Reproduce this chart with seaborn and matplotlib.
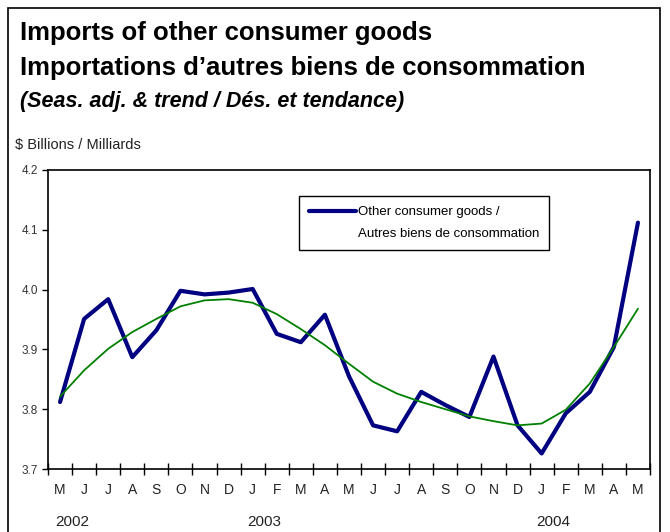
import numpy as np
import pandas as pd
import matplotlib
matplotlib.use("Agg")
import matplotlib.pyplot as plt
import matplotlib.transforms as mtransforms
import seaborn as sns
from matplotlib.lines import Line2D
from matplotlib.patches import Rectangle

# Monthly data, May 2002 - May 2004 ($ billions)
months = ["M", "J", "J", "A", "S", "O", "N", "D", "J", "F", "M", "A",
          "M", "J", "J", "A", "S", "O", "N", "D", "J", "F", "M", "A", "M"]
seas_adj = [3.812, 3.951, 3.984, 3.887, 3.932, 3.998, 3.992, 3.995, 4.001,
            3.926, 3.912, 3.958, 3.855, 3.773, 3.763, 3.829, 3.807, 3.787,
            3.888, 3.773, 3.726, 3.793, 3.829, 3.904, 4.112]
trend = [3.821, 3.865, 3.901, 3.929, 3.951, 3.972, 3.982, 3.984, 3.978,
         3.959, 3.934, 3.907, 3.876, 3.846, 3.826, 3.812, 3.800, 3.788,
         3.780, 3.773, 3.776, 3.799, 3.843, 3.904, 3.968]
years = ["2002", "2003", "2004"]
year_pos = [0.5, 8.5, 20.5]
yticks = [3.7, 3.8, 3.9, 4.0, 4.1, 4.2]

df = pd.DataFrame({"idx": range(len(months)), "seas": seas_adj, "trend": trend})

sns.set_theme(style="white")
plt.rcParams["font.family"] = ["Liberation Sans", "DejaVu Sans"]
plt.rcParams["text.color"] = "black"

fig = plt.figure(figsize=(6.7, 5.32), dpi=100)
ax = fig.add_axes([48 / 670, 1 - 469 / 532, 602 / 670, 299 / 532])

sns.lineplot(data=df, x="idx", y="seas", color="#000080", linewidth=3.0, ax=ax)
sns.lineplot(data=df, x="idx", y="trend", color="#008000", linewidth=1.3, ax=ax)

ax.set_xlim(-0.5, len(months) - 0.5)
ax.set_ylim(3.7, 4.2)
ax.set_yticks(yticks)
ax.set_yticklabels([f"{v:.1f}" for v in yticks])
ax.set_xlabel("")
ax.set_ylabel("")

# category axis: ticks between months, labels centred
ax.set_xticks(np.arange(-0.5, len(months), 1.0))
ax.set_xticklabels([])
ax.set_xticks(np.arange(len(months)), minor=True)
ax.set_xticklabels(months, minor=True)
ax.tick_params(axis="x", which="major", direction="inout", length=8, width=1, color="black", bottom=True)
ax.tick_params(axis="x", which="minor", length=0, pad=10, labelsize=10, labelcolor="#222222", bottom=True)
ax.tick_params(axis="y", direction="out", length=4, width=1, color="black", left=True,
               labelsize=8.5, labelcolor="#333333", pad=3)

for sp in ax.spines.values():
    sp.set_color("black")
    sp.set_linewidth(1.2)

trans = mtransforms.blended_transform_factory(ax.transData, ax.transAxes)
for y, p in zip(years, year_pos):
    ax.text(p, -0.177, y, transform=trans, ha="center", va="center", fontsize=11, color="#222222")

handles = [Line2D([], [], color="#000080", lw=3), Line2D([], [], color="none")]
leg = ax.legend(handles, ["Other consumer goods /", "Autres biens de consommation"],
                loc="upper left", bbox_to_anchor=(0.417, 0.913), fontsize=9.5,
                frameon=True, fancybox=False, edgecolor="black", framealpha=1,
                handlelength=3.6, handletextpad=0.1, borderpad=0.75, labelspacing=0.75,
                borderaxespad=0)
leg.get_frame().set_linewidth(1)
for t in leg.get_texts():
    t.set_color("black")

fig.text(20 / 670, 1 - 33 / 532, "Imports of other consumer goods",
         fontsize=18.5, fontweight="bold", va="center")
fig.text(20 / 670, 1 - 68 / 532, "Importations d\u2019autres biens de consommation",
         fontsize=18.5, fontweight="bold", va="center")
fig.text(20 / 670, 1 - 101 / 532, "(Seas. adj. & trend / D\u00e9s. et tendance)",
         fontsize=15.5, fontweight="bold", fontstyle="italic", va="center")
fig.text(15 / 670, 1 - 145 / 532, "$ Billions / Milliards", fontsize=10.5, va="center", color="#222222")

fig.patches.append(Rectangle((8 / 670, -0.02), 652 / 670, 1.02 - 8 / 532, transform=fig.transFigure,
                             fill=False, edgecolor="black", linewidth=1.2))

fig.savefig("out.png", dpi=100)
